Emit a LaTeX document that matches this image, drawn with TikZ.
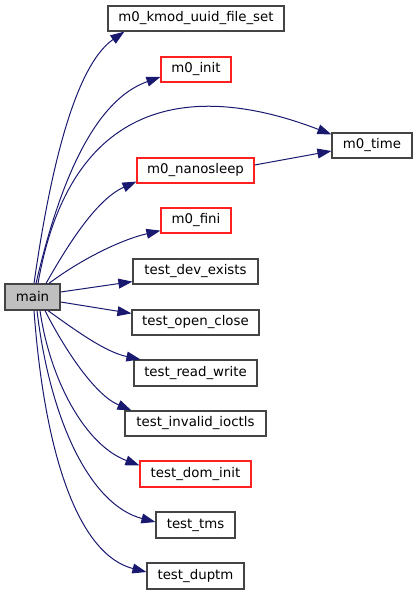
\documentclass[tikz,border=0pt]{standalone}
\usepackage{fontspec}
\setmainfont{DejaVu Sans}
\usetikzlibrary{arrows.meta,calc}
\definecolor{edgeblue}{HTML}{191970}
\definecolor{boxgray}{HTML}{444444}
\definecolor{boxred}{HTML}{FF2020}
\definecolor{mainfill}{HTML}{BFBFBF}
\begin{document}
\begin{tikzpicture}[x=0.75pt,y=-0.75pt,
  fn/.style={draw=boxgray,line width=0.9pt,fill=white,font=\fontsize{10pt}{12pt}\selectfont,inner sep=0pt,minimum height=18.75pt},
  fnred/.style={fn,draw=boxred},
  call/.style={draw=edgeblue,line width=0.75pt,-{Triangle[length=10.5pt,width=7.4pt]}}]
\useasboundingbox (0,0) rectangle (417,595);
\node[fn,fill=mainfill,minimum width=41.25pt,minimum height=19.5pt] (main) at (32.5,297) {main};
\node[fn,minimum width=132pt] (kmod) at (196,18.5) {m0\_kmod\_uuid\_file\_set};
\node[fnred,minimum width=52.5pt] (init) at (196,69.5) {m0\_init};
\node[fn,minimum width=60pt] (time) at (372,145.5) {m0\_time};
\node[fnred,minimum width=87.75pt] (nano) at (195.5,170.5) {m0\_nanosleep};
\node[fnred,minimum width=52.5pt] (fini) at (196,220.5) {m0\_fini};
\node[fn,minimum width=93.75pt] (dev) at (195.5,271.5) {test\_dev\_exists};
\node[fn,minimum width=95.25pt] (oc) at (195.5,322.5) {test\_open\_close};
\node[fn,minimum width=92.25pt,minimum height=19.5pt] (rw) at (195.5,373) {test\_read\_write};
\node[fn,minimum width=105.75pt] (inv) at (195.5,423.5) {test\_invalid\_ioctls};
\node[fnred,minimum width=83.25pt,minimum height=19.5pt] (dom) at (195.5,474) {test\_dom\_init};
\node[fn,minimum width=59.25pt,minimum height=19.5pt] (tms) at (195.5,525) {test\_tms};
\node[fn,minimum width=72.75pt,minimum height=19.5pt] (dup) at (195.5,576) {test\_duptm};
% edges from main top
\draw[call] ($(main.north)+(1.5,0)$) .. controls (48,185) and (72,68) .. ($(kmod.south west)+(17,0)$);
\draw[call] ($(main.north)+(3.5,0)$) .. controls (60,180) and (95,100) .. ($(init.west)+(0,7.5)$);
\draw[call] ($(main.north)+(5.5,0)$) .. controls (70,100) and (190,80) .. ($(time.north west)+(0,2)$);
\draw[call] ($(main.north)+(13.5,0)$) .. controls (65,250) and (95,200) .. ($(nano.south west)+(0,-2)$);
\draw[call] ($(main.north)+(16.5,0)$) .. controls (80,260) and (120,240) .. ($(fini.south west)+(0,-3)$);
% right side
\draw[call] ($(main.east)+(0,-5)$) -- ($(dev.south west)+(0,-3)$);
\draw[call] ($(main.east)+(0,5)$) -- ($(oc.north west)+(0,4)$);
% bottom
\draw[call] ($(main.south)+(15.5,0)$) .. controls (75,330) and (105,352) .. ($(rw.north west)+(7,0)$);
\draw[call] ($(main.south)+(12.5,0)$) .. controls (65,350) and (95,395) .. ($(inv.north west)+(7,0)$);
\draw[call] ($(main.south)+(7.5,0)$) .. controls (50,380) and (85,445) .. ($(dom.north west)+(0,5)$);
\draw[call] ($(main.south)+(4.5,0)$) .. controls (50,420) and (90,505) .. ($(tms.west)+(0,-3)$);
\draw[call] ($(main.south)+(1.5,0)$) .. controls (45,460) and (80,555) .. ($(dup.west)+(0,-4)$);
% nanosleep -> time
\draw[call] ($(nano.east)+(0,-5.5)$) -- ($(time.west)+(0,5.5)$);
\end{tikzpicture}
\end{document}
